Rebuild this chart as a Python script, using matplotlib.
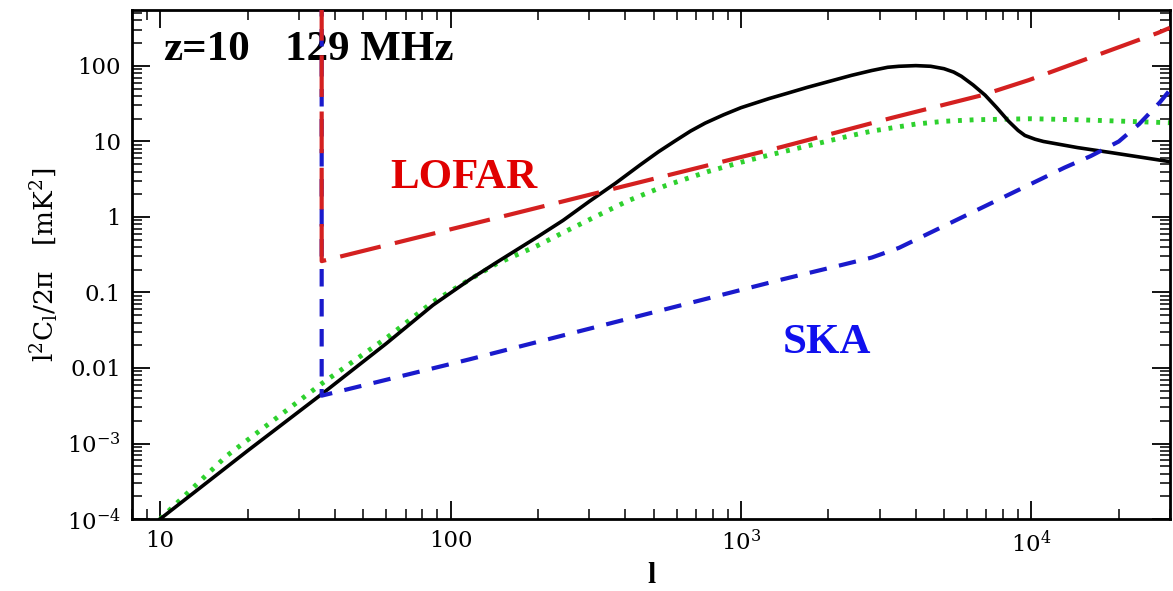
import matplotlib
matplotlib.use("Agg")
import matplotlib.pyplot as plt

# ---- data ----
black_l = [10, 20, 36, 60, 87, 117, 144, 200, 244, 300, 370, 450, 520, 594, 670, 753,
           870, 1000, 1250, 1430, 1690, 2000, 2400, 2820, 3200, 3500, 4000, 4500,
           5000, 5400, 5740, 6300, 6930, 7600, 8350, 9000, 9500, 10300, 11000,
           14400, 18900, 30000]
black_y = [1e-4, 8e-4, 0.0045, 0.021, 0.068, 0.15, 0.25, 0.55, 0.9, 1.6, 2.8, 4.9,
           7.3, 10.2, 13.7, 17.5, 22.5, 28, 37, 43, 52, 62, 75, 87, 96, 99, 101, 99,
           92, 83, 73, 56, 41, 28, 18.5, 14, 12, 10.7, 10, 8.3, 7.1, 5.4]

green_l = [10, 16.9, 36, 61, 87, 117, 144, 200, 244, 330, 410, 550, 771, 1000, 1250,
           1730, 2400, 2820, 4000, 5000, 6400, 10000, 14400, 30000]
green_y = [1e-4, 6.8e-4, 0.0062, 0.026, 0.075, 0.15, 0.24, 0.42, 0.62, 1.1, 1.65,
           2.6, 4.0, 5.3, 6.6, 8.9, 12, 13.7, 17, 18.5, 19.4, 20, 19.4, 17.7]

lofar_l = [36, 36, 116, 1387, 3300, 6760, 9800, 27200, 30000]
lofar_y = [1e4, 0.26, 0.79, 8.5, 20.5, 41, 65, 273, 320]

ska_l = [36, 36, 116, 1387, 2260, 2820, 3500, 6760, 13000, 16000, 20000, 23500,
         27700, 30000]
ska_y = [1e4, 0.0043, 0.013, 0.149, 0.235, 0.29, 0.39, 1.33, 4.5, 6.4, 10, 17,
         33, 48]

xtick_vals = [10, 100, 1000, 10000]
xtick_labels = ['10', '100', r'$10^3$', r'$10^4$']
ytick_vals = [1e-4, 1e-3, 0.01, 0.1, 1, 10, 100]
ytick_labels = [r'$10^{-4}$', r'$10^{-3}$', '0.01', '0.1', '1', '10', '100']

# ---- figure ----
plt.rcParams['mathtext.fontset'] = 'dejavuserif'
fig = plt.figure(figsize=(11.73, 5.91), dpi=100)
ax = fig.add_axes([0.1125, 0.1218, 0.8849, 0.8612])
ax.set_xscale('log')
ax.set_yscale('log')
ax.set_xlim(8, 30000)
ax.set_ylim(1e-4, 550)

ax.plot(green_l, green_y, color='#2ed12e', lw=3.5, linestyle=(0, (0.8, 1.6)),
        dash_capstyle='butt', zorder=2)
ax.plot(black_l, black_y, color='black', lw=2.6, zorder=3)
ax.plot(ska_l, ska_y, color='#1a1acc', lw=3, linestyle=(0, (4.2, 3)), zorder=4)
ax.plot(lofar_l, lofar_y, color='#d42020', lw=3, linestyle=(0, (10, 3.5)), zorder=5)

ax.set_xticks(xtick_vals)
ax.set_xticklabels(xtick_labels, fontfamily='DejaVu Serif', fontsize=16.5)
ax.set_yticks(ytick_vals)
ax.set_yticklabels(ytick_labels, fontfamily='DejaVu Serif', fontsize=16.5)

ax.tick_params(which='major', direction='in', length=13, width=1.3,
               top=True, right=True, pad=8)
ax.tick_params(which='minor', direction='in', length=7, width=1.1,
               top=True, right=True)
for s in ax.spines.values():
    s.set_linewidth(2)

ax.set_ylabel(r'$\mathrm{l^2C_l/2\pi}$   [mK$^2$]', fontfamily='DejaVu Serif',
              fontsize=19, labelpad=4)
ax.set_xlabel('l', fontfamily='Liberation Serif', fontweight='bold', fontsize=21,
              labelpad=4)

ax.text(0.030, 0.902, 'z=10', transform=ax.transAxes, fontfamily='Liberation Serif',
        fontweight='bold', fontsize=31, va='baseline', ha='left', color='black')
ax.text(0.147, 0.902, '129 MHz', transform=ax.transAxes, fontfamily='Liberation Serif',
        fontweight='bold', fontsize=31, va='baseline', ha='left', color='black')
ax.text(0.2486, 0.650, 'LOFAR', transform=ax.transAxes, fontfamily='Liberation Serif',
        fontweight='bold', fontsize=31, va='baseline', ha='left', color='#e00000')
ax.text(0.627, 0.326, 'SKA', transform=ax.transAxes, fontfamily='Liberation Serif',
        fontweight='bold', fontsize=31, va='baseline', ha='left', color='#1010ee')

fig.savefig('out.png', dpi=100)
